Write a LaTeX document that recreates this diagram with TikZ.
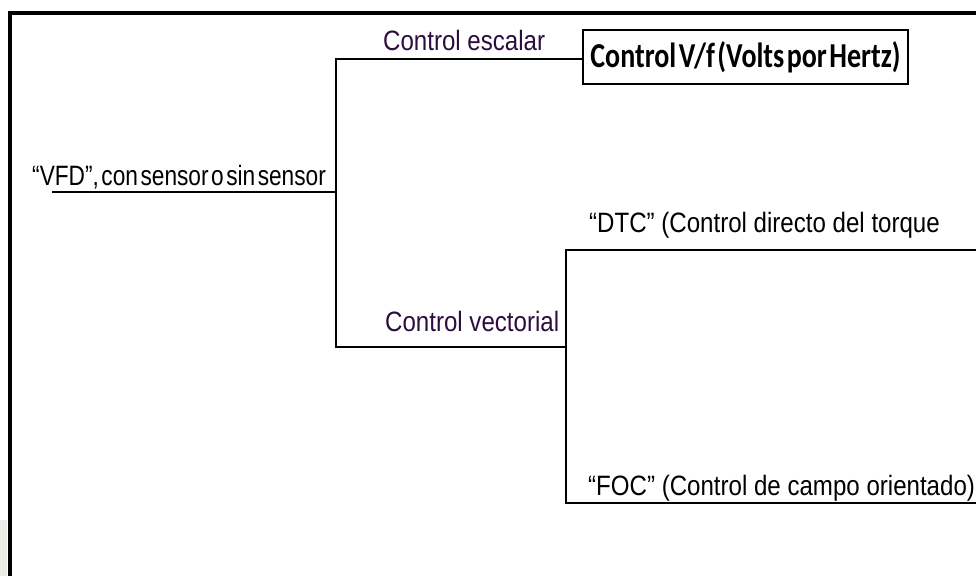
\documentclass[tikz,border=0pt]{standalone}
\usepackage{fontspec}
\setmainfont{Liberation Sans}
\newfontfamily\labelfont[FakeStretch=0.86]{Liberation Sans}
\newfontfamily\rootfont[FakeStretch=0.81,WordSpace=0.4]{Liberation Sans}
\newfontfamily\boxfont[FakeStretch=0.8,WordSpace=0.4]{Carlito}
\definecolor{branchink}{HTML}{2B0D3E}
\definecolor{edgegray}{HTML}{ECECE7}

\tikzset{
  wire/.style={line width=2.8pt, line cap=rect},
  frameline/.style={line width=3.8pt},
  leaf/.style={anchor=base west, inner sep=0pt, font=\labelfont\fontsize{28}{32}\selectfont},
  branch/.style={leaf, text=branchink},
  rootlabel/.style={anchor=base west, inner sep=0pt, font=\rootfont\fontsize{28}{32}\selectfont},
  methodbox/.style={draw, line width=2.2pt, minimum width=325pt, minimum height=54pt,
    inner sep=0pt, font=\boxfont\bfseries\fontsize{35}{38}\selectfont}
}

\begin{document}
\begin{tikzpicture}[x=1pt, y=-1pt]
  \useasboundingbox (0,0) rectangle (976,576);
  \fill[edgegray] (0,520) rectangle (7,576);

  % open frame: top and left edges only
  \draw[frameline] (976,13) -| (10,576);

  % labels
  \node[rootlabel] (vfd) at (32,185) {“VFD”, con sensor o sin sensor};
  \node[branch] (escalar) at (383,50) {Control escalar};
  \node[branch] (vectorial) at (385,331) {Control vectorial};
  \node[methodbox] (vf) at (745.5,57) {Control V/f (Volts por Hertz)};
  \node[leaf] (dtc) at (589,232) {“DTC” (Control directo del torque};
  \node[leaf] (foc) at (588,495) {“FOC” (Control de campo orientado)};

  % junction points of the tree
  \coordinate (root) at (53,192);
  \coordinate (rootj) at (336,192);
  \coordinate (s1) at (336,59);
  \coordinate (s2) at (336,347);
  \coordinate (vj) at (566,347);
  \coordinate (v1) at (566,250);
  \coordinate (v2) at (566,503);
  \coordinate (dtcend) at (976,250);
  \coordinate (focend) at (976,503);

  % connectors
  \draw[wire] (root) -- (rootj);
  \draw[wire] (s1) -- (s2);
  \draw[wire] (s1) -- (vf.west |- s1);
  \draw[wire] (s2) -- (vj);
  \draw[wire] (v1) -- (v2);
  \draw[wire] (v1) -- (dtcend);
  \draw[wire] (v2) -- (focend);
\end{tikzpicture}
\end{document}
